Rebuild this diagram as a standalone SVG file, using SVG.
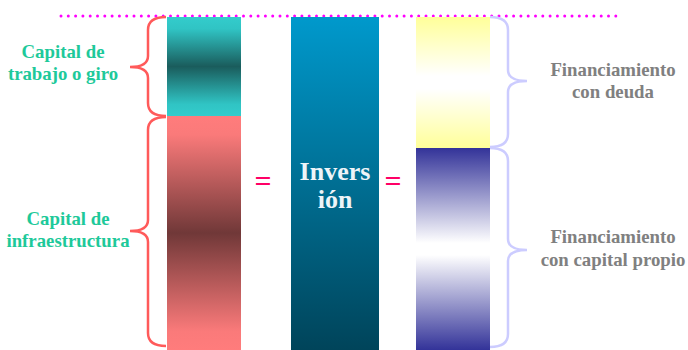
<svg xmlns="http://www.w3.org/2000/svg" width="688" height="350" viewBox="0 0 688 350">
<defs>
<linearGradient id="gCyan" x1="0" y1="0" x2="0" y2="1">
<stop offset="0" stop-color="#33cccc"/><stop offset="0.12" stop-color="#30c4c4"/><stop offset="0.5" stop-color="#1a5c5c"/><stop offset="0.88" stop-color="#30c4c4"/><stop offset="1" stop-color="#33cccc"/>
</linearGradient>
<linearGradient id="gPink" x1="0" y1="0" x2="0" y2="1">
<stop offset="0" stop-color="#ff7c7c"/><stop offset="0.08" stop-color="#fa7a7a"/><stop offset="0.5" stop-color="#703838"/><stop offset="0.92" stop-color="#fa7a7a"/><stop offset="1" stop-color="#ff7c7c"/>
</linearGradient>
<linearGradient id="gBlue" x1="0" y1="0" x2="0" y2="1">
<stop offset="0" stop-color="#0099cc"/><stop offset="1" stop-color="#00445a"/>
</linearGradient>
<linearGradient id="gYellow" x1="0" y1="0" x2="0" y2="1">
<stop offset="0" stop-color="#ffff99"/><stop offset="0.45" stop-color="#ffffff"/><stop offset="0.55" stop-color="#ffffff"/><stop offset="1" stop-color="#ffff99"/>
</linearGradient>
<linearGradient id="gNavy" x1="0" y1="0" x2="0" y2="1">
<stop offset="0" stop-color="#333399"/><stop offset="0.47" stop-color="#ffffff"/><stop offset="0.53" stop-color="#ffffff"/><stop offset="1" stop-color="#333399"/>
</linearGradient>
</defs>
<style>
.lbl{font-family:"Liberation Serif","DejaVu Serif","Times New Roman",serif;font-weight:bold;font-size:18.8px;text-anchor:middle}
.green{fill:#1ec99a}
.gray{fill:#808080}
.eq{font-family:"Liberation Serif","DejaVu Serif",serif;font-weight:bold;font-size:30px;fill:#ff0066;text-anchor:middle}
.inv{font-family:"Liberation Serif","DejaVu Serif",serif;font-weight:bold;font-size:26px;fill:#eef4f8;text-anchor:middle}
.braceL{fill:none;stroke:#ff5a5a;stroke-width:2.5}
.braceR{fill:none;stroke:#ccccff;stroke-width:2.5}
</style>
<line id="dotline" x1="61" y1="16" x2="622" y2="16" stroke="#ff00ff" stroke-width="3" stroke-linecap="round" stroke-dasharray="0 7.3"/>
<g id="bar-left">
<rect x="167" y="17" width="74" height="99" fill="url(#gCyan)"/>
<rect x="167" y="116" width="74" height="234" fill="url(#gPink)"/>
</g>
<g id="bar-middle">
<rect x="291" y="17" width="88" height="333" fill="url(#gBlue)"/>
<text class="inv" x="335" y="180">Invers</text>
<text class="inv" x="335" y="208">ión</text>
</g>
<g id="bar-right">
<rect x="416" y="17" width="74" height="131" fill="url(#gYellow)"/>
<rect x="416" y="148" width="74" height="202" fill="url(#gNavy)"/>
</g>
<text class="eq" x="263" y="191">=</text>
<text class="eq" x="393" y="191">=</text>
<g id="connectors">
<path class="braceL" d="M166,17 Q148,17 148,30 V56 Q148,67 130,67 Q148,67 148,78 V103 Q148,116 166,116"/>
<path class="braceL" d="M166,117 Q148,117 148,130 V220 Q148,231 130,231 Q148,231 148,242 V333 Q148,346 166,346"/>
<path class="braceR" d="M490,17 Q508,17 508,30 V70 Q508,81 527,81 Q508,81 508,92 V134 Q508,147 490,147"/>
<path class="braceR" d="M490,148 Q508,148 508,161 V239 Q508,250 527,250 Q508,250 508,261 V334 Q508,347 490,347"/>
</g>
<g id="label-trabajo">
<text class="lbl green" x="63" y="58">Capital de</text>
<text class="lbl green" x="63" y="80">trabajo o giro</text>
</g>
<g id="label-infra">
<text class="lbl green" x="68" y="225">Capital de</text>
<text class="lbl green" x="68" y="247">infraestructura</text>
</g>
<g id="label-deuda">
<text class="lbl gray" x="613" y="76">Financiamiento</text>
<text class="lbl gray" x="613" y="98">con deuda</text>
</g>
<g id="label-propio">
<text class="lbl gray" x="613" y="243">Financiamiento</text>
<text class="lbl gray" x="613" y="266">con capital propio</text>
</g>
</svg>
